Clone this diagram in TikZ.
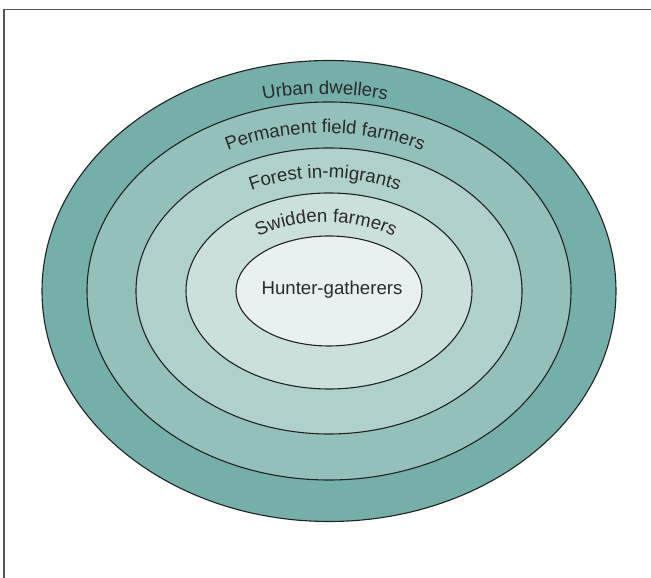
\documentclass[tikz,border=0pt]{standalone}
\usepackage{fontspec}
\setmainfont{Liberation Sans}
\usetikzlibrary{decorations.text}
\definecolor{ringA}{HTML}{74AFA9}
\definecolor{ringB}{HTML}{94C0BA}
\definecolor{ringC}{HTML}{AFD0CB}
\definecolor{ringD}{HTML}{CBE0DD}
\definecolor{ringE}{HTML}{E8F1F0}
\definecolor{inkline}{HTML}{222222}
\definecolor{inktext}{HTML}{2A2A2A}
\definecolor{framegray}{HTML}{555555}
\newcommand{\lblfont}{\fontsize{18.7}{22}\selectfont\color{inktext}}
\tikzset{
  ring/.style={draw=inkline, line width=1.1bp},
  arclabel/.style={decorate, decoration={text along path, text align=center, text={|\lblfont|#1}}}
}
\begin{document}
\begin{tikzpicture}[x=1bp,y=1bp]
\useasboundingbox (0,0) rectangle (651,578);
% frame
\coordinate (ftl) at (4,568.5);
\coordinate (ftr) at (651,568.5);
\coordinate (fbl) at (4,0);
\draw[framegray, line width=1.3bp] (fbl) -- (ftl) -- (ftr);
% rings
\coordinate (c) at (329,287);
\filldraw[ring, fill=ringA] (c) ellipse [x radius=287, y radius=230.5];
\filldraw[ring, fill=ringB] (c) ellipse [x radius=242, y radius=189];
\filldraw[ring, fill=ringC] (c) ellipse [x radius=193, y radius=143];
\filldraw[ring, fill=ringD] (c) ellipse [x radius=143, y radius=98];
\filldraw[ring, fill=ringE] (c) ellipse [x radius=93, y radius=55];
% curved labels
\path[arclabel={Urban dwellers}] (325-251,287) arc[start angle=180, end angle=0, x radius=251, y radius=197];
\path[arclabel={Permanent field farmers}] (325-209,287) arc[start angle=180, end angle=0, x radius=209, y radius=158];
\path[arclabel={Forest in-migrants}] (325-160,287) arc[start angle=180, end angle=0, x radius=160, y radius=113];
\path[arclabel={Swidden farmers}] (326-109,287) arc[start angle=180, end angle=0, x radius=109, y radius=69];
\node[font=\lblfont] (hg) at (332,288) {Hunter-gatherers};
\end{tikzpicture}
\end{document}
